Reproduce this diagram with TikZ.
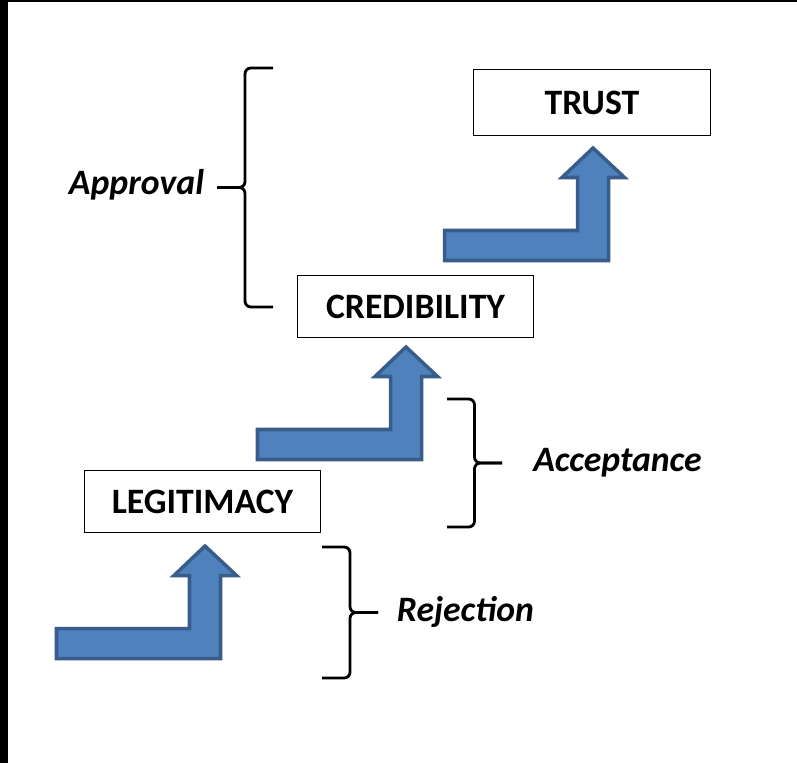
\documentclass[tikz,border=0pt]{standalone}
\usepackage{fontspec}
\setmainfont{Carlito}
\usepackage{tikz}
\usetikzlibrary{positioning,calc}
\definecolor{stepblue}{HTML}{4F81BD}
\definecolor{stepedge}{HTML}{385D8A}

\begin{document}
\begin{tikzpicture}[x=0.03cm, y=-0.03cm,
    box/.style = {draw, line width=1.1pt, minimum width=7.1cm, minimum height=1.85cm, inner sep=0pt, font=\fontsize{30.5}{34}\selectfont\bfseries},
    lbl/.style = {font=\fontsize{30.5}{34}\selectfont\bfseries\itshape},
    brace/.style = {line width=2.4pt, rounded corners=5pt},
    stairs/.style = {fill=stepblue, draw=stepedge, line width=3pt, line join=miter}]

    % page and frame
    \useasboundingbox (0,0) rectangle (797,763);
    \fill[white] (0,0) rectangle (797,763);
    \fill (0,0) rectangle (8,763);
    \fill (0,0) rectangle (797,2.5);

    % Nodes
    \node[box] (legit) at (202.5,501.5) {LEGITIMACY};
    \node[box] (cred) at (415.5,306.5) {CREDIBILITY};
    \node[box, minimum height=2cm] (trust) at (592,102.5) {TRUST};

    % Labels
    \node[lbl] (rej) at (465.5,612) {Rejection};
    \node[lbl] (acc) at (617.5,463) {Acceptance};
    \node[lbl] (appr) at (136.5,185) {Approval};

    % Step arrows
    \foreach \x/\y in {55/660, 256/461, 443/262}
        \filldraw[stairs, shift={(\x,\y)}] (1.5,-1.5) -- (1.5,-31.5) -- (134.5,-31.5) -- (134.5,-84.5) -- (119,-84.5) -- (150,-114) -- (181.5,-84.5) -- (165.5,-84.5) -- (165.5,-1.5) -- cycle;

    % Braces: end x / top y / bottom y / tip x
    \foreach \bx/\btop/\bbot/\btip in {273/68/307/217, 322/547/678/378, 447/399/527/502}{
        \pgfmathsetmacro\bsx{(\bx+\btip)/2}
        \pgfmathsetmacro\bmy{(\btop+\bbot)/2}
        \draw[brace] (\bx,\btop) -- (\bsx,\btop) -- (\bsx,\bmy) -- (\btip,\bmy);
        \draw[brace] (\btip,\bmy) -- (\bsx,\bmy) -- (\bsx,\bbot) -- (\bx,\bbot);
    }
\end{tikzpicture}
\end{document}
